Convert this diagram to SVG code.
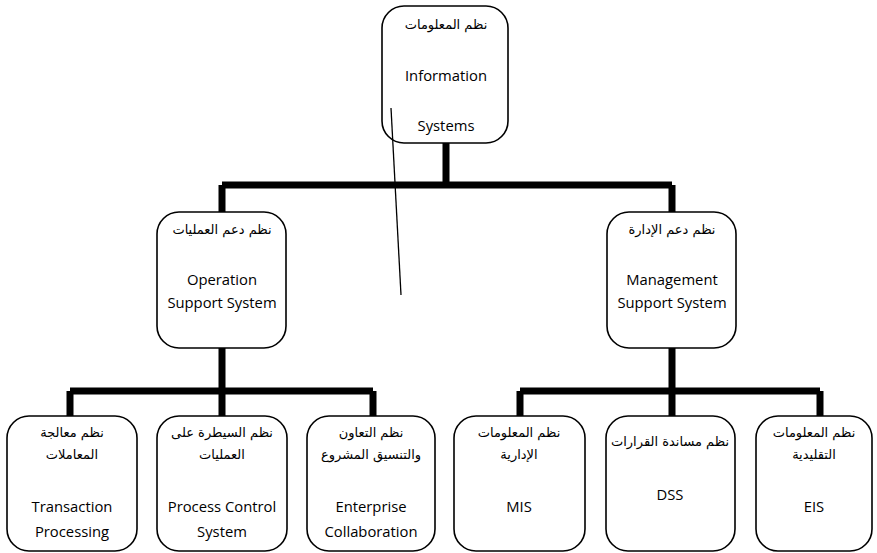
<svg xmlns="http://www.w3.org/2000/svg" width="877" height="553" viewBox="0 0 877 553">
<style>
.box{fill:#fff;stroke:#000;stroke-width:1.6}
.en{font-family:"Open Sans","Liberation Sans",sans-serif;font-size:14.8px;fill:#000;text-anchor:middle}
.ar{font-family:"DejaVu Sans","Noto Sans",sans-serif;font-size:13px;fill:#000;text-anchor:middle}
.con{fill:none;stroke:#000;stroke-width:7}
</style>
<rect width="877" height="553" fill="#fff"/>
<g id="connectors">
<path class="con" d="M446 143V185M222 185H672M222 185V212M672 185V212"/>
<path class="con" d="M222 348V391M70 391H373M70 391V416M222 391V416M373 391V416"/>
<path class="con" d="M672 348V391M520 391H820M520 391V416M672 391V416M820 391V416"/>
</g>
<g id="n-is"><rect class="box" x="382" y="6" width="126" height="137" rx="22"/>
<text class="ar" x="446" y="29" direction="rtl">نظم المعلومات</text>
<text class="en" x="446" y="81">Information</text>
<text class="en" x="446" y="131">Systems</text></g>
<g id="n-oss"><rect class="box" x="157" y="212" width="129" height="136" rx="22"/>
<text class="ar" x="222" y="234" direction="rtl">نظم دعم العمليات</text>
<text class="en" x="222" y="285">Operation</text>
<text class="en" x="222" y="308">Support System</text></g>
<g id="n-mss"><rect class="box" x="607" y="212" width="129" height="136" rx="22"/>
<text class="ar" x="672" y="234" direction="rtl">نظم دعم الإدارة</text>
<text class="en" x="672" y="285">Management</text>
<text class="en" x="672" y="308">Support System</text></g>
<g id="n-tp"><rect class="box" x="7" y="416" width="130" height="135" rx="22"/>
<text class="ar" x="72" y="437" direction="rtl">نظم معالجة</text>
<text class="ar" x="72" y="459" direction="rtl">المعاملات</text>
<text class="en" x="72" y="512">Transaction</text>
<text class="en" x="72" y="537">Processing</text></g>
<g id="n-pcs"><rect class="box" x="157" y="416" width="130" height="135" rx="22"/>
<text class="ar" x="222" y="437" direction="rtl">نظم السيطرة على</text>
<text class="ar" x="222" y="459" direction="rtl">العمليات</text>
<text class="en" x="222" y="512">Process Control</text>
<text class="en" x="222" y="537">System</text></g>
<g id="n-ec"><rect class="box" x="307" y="416" width="128" height="135" rx="22"/>
<text class="ar" x="371" y="437" direction="rtl">نظم التعاون</text>
<text class="ar" x="371" y="459" direction="rtl">والتنسيق المشروع</text>
<text class="en" x="371" y="512">Enterprise</text>
<text class="en" x="371" y="537">Collaboration</text></g>
<g id="n-mis"><rect class="box" x="454" y="416" width="131" height="135" rx="22"/>
<text class="ar" x="519" y="437" direction="rtl">نظم المعلومات</text>
<text class="ar" x="519" y="459" direction="rtl">الإدارية</text>
<text class="en" x="519" y="512">MIS</text></g>
<g id="n-dss"><rect class="box" x="606" y="416" width="129" height="135" rx="22"/>
<text class="ar" x="670" y="446" direction="rtl">نظم مساندة القرارات</text>
<text class="en" x="670" y="500">DSS</text></g>
<g id="n-eis"><rect class="box" x="756" y="416" width="116" height="135" rx="22"/>
<text class="ar" x="814" y="437" direction="rtl">نظم المعلومات</text>
<text class="ar" x="814" y="459" direction="rtl">التقليدية</text>
<text class="en" x="814" y="512">EIS</text></g>
<line x1="391" y1="108" x2="401" y2="295" stroke="#000" stroke-width="1.3"/>
</svg>
